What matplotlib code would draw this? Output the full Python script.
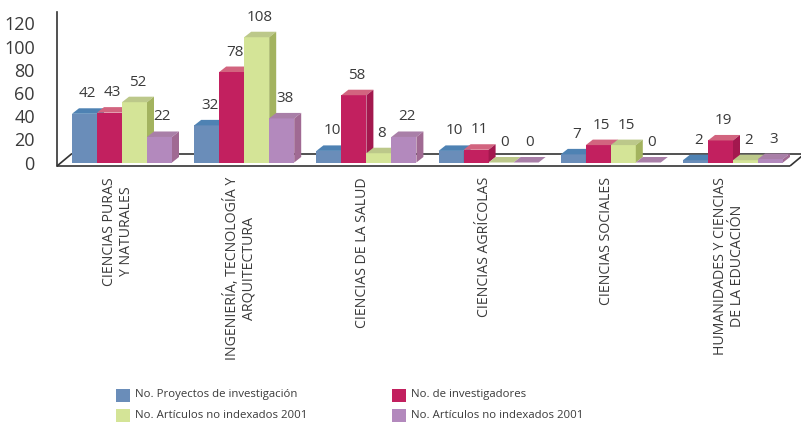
import matplotlib
matplotlib.use('Agg')
import matplotlib.pyplot as plt
from matplotlib.patches import Polygon, Rectangle
from matplotlib import font_manager

# ---------------- data ----------------
categories = ["CIENCIAS PURAS\nY NATURALES",
              "INGENIERÍA, TECNOLOGÍA Y\nARQUITECTURA",
              "CIENCIAS DE LA SALUD",
              "CIENCIAS AGRÍCOLAS",
              "CIENCIAS SOCIALES",
              "HUMANIDADES Y CIENCIAS\nDE LA EDUCACIÓN"]
proyectos = [42, 32, 10, 10, 7, 2]
investigadores = [43, 78, 58, 11, 15, 19]
articulos_a = [52, 108, 8, 0, 15, 2]
articulos_b = [22, 38, 22, 0, 0, 3]
series_labels = ["No. Proyectos de investigación",
                 "No. de investigadores",
                 "No. Artículos no indexados 2001",
                 "No. Artículos no indexados 2001"]
yticks = [0, 20, 40, 60, 80, 100, 120]

series = [proyectos, investigadores, articulos_a, articulos_b]
# (front, top, side)
colors = [("#6A8DB9", "#4E82B3", "#557AA3"),
          ("#C2205F", "#D2647F", "#A3184E"),
          ("#D4E497", "#BCC88A", "#A3B35F"),
          ("#B389BD", "#A97FA8", "#A06A93")]

names = {f.name for f in font_manager.fontManager.ttflist}
FONT = 'Liberation Sans Narrow' if 'Liberation Sans Narrow' in names else 'Open Sans'
plt.rcParams['font.family'] = [FONT, 'DejaVu Sans']
TXT = "#3a3a3a"

W, H = 801, 425
fig = plt.figure(figsize=(W / 100, H / 100), dpi=100)

# layout in pixels
ax_left, ax_right, ax_top, ax_bot = 57, 801, 10, 168
zero_px, px_per_unit = 162.5, 1.16
group_pitch, group0_px = 122.2, 122.0
ax = fig.add_axes([ax_left / W, 1 - ax_bot / H, (ax_right - ax_left) / W, (ax_bot - ax_top) / H])

def v_of(py):
    return (zero_px - py) / px_per_unit

def x_of(px):
    return (px - group0_px) / group_pitch

ax.set_xlim(x_of(ax_left), x_of(ax_right))
ax.set_ylim(v_of(ax_bot), v_of(ax_top))

bw = 25 / group_pitch
ddx = 7 / group_pitch
ddy = 5.5 / px_per_unit

# floor
vf, vb = v_of(166), v_of(153.5)
xfl, xbl = x_of(57), x_of(72)
xfr, xbr = x_of(790), x_of(805)
lk = dict(color="#333333", lw=1.2, clip_on=False, zorder=1, solid_capstyle='butt')
ax.plot([xfl, xfr], [vf, vf], **lk)
ax.plot([xfl, xbl], [vf, vb], **lk)
ax.plot([xbl, xbr], [vb, vb], **lk)
ax.plot([xfr, xbr], [vf, vb], **lk)

for i in range(len(categories)):
    for j, vals in enumerate(series):
        v = vals[i]
        x0 = i - 2 * bw + j * bw
        fc, tc, sc = colors[j]
        z = 3 + j * 0.1
        ax.bar(x0, v, width=bw, align='edge', color=fc, linewidth=0, zorder=z)
        ax.add_patch(Polygon([(x0, v), (x0 + bw, v), (x0 + bw + ddx, v + ddy), (x0 + ddx, v + ddy)],
                             closed=True, facecolor=tc, edgecolor='none', zorder=z))
        ax.add_patch(Polygon([(x0 + bw, 0), (x0 + bw + ddx, ddy), (x0 + bw + ddx, v + ddy), (x0 + bw, v)],
                             closed=True, facecolor=sc, edgecolor='none', zorder=z))
        ax.annotate(str(v), (x0 + bw / 2, v), xytext=(3, 20), textcoords='offset pixels',
                    ha='center', va='center', fontsize=11, color=TXT, zorder=10)
    ax.annotate(categories[i], xy=(i, 0), xycoords=('data', 'axes fraction'),
                xytext=(-4, -9), textcoords='offset pixels', rotation=90,
                ha='center', va='top', multialignment='center', fontsize=10.2, color=TXT,
                annotation_clip=False)

for s in ['top', 'right', 'bottom']:
    ax.spines[s].set_visible(False)
ax.spines['left'].set_color("#333333")
ax.spines['left'].set_linewidth(1.2)
ax.spines['left'].set_bounds(v_of(166), v_of(12))
ax.set_xticks([])
ax.set_yticks(yticks)
ax.set_yticklabels([str(t) for t in yticks], fontsize=13, color=TXT)
ax.tick_params(axis='y', length=0, pad=16)
ax.patch.set_alpha(0)

# legend (manual)
leg_x = [116, 392]
leg_y = [395, 415]
order = [(0, 0), (1, 0), (0, 1), (1, 1)]  # (col,row) for series 0..3
for j, (c, r) in enumerate(order):
    x, y = leg_x[c], leg_y[r]
    fig.add_artist(Rectangle((x / W, 1 - (y + 6.5) / H), 14 / W, 13 / H,
                             transform=fig.transFigure, facecolor=colors[j][0], edgecolor='none'))
    fig.text((x + 19) / W, 1 - y / H, series_labels[j], ha='left', va='center',
             fontsize=8.2, color=TXT)

fig.savefig('out.png', dpi=100)
